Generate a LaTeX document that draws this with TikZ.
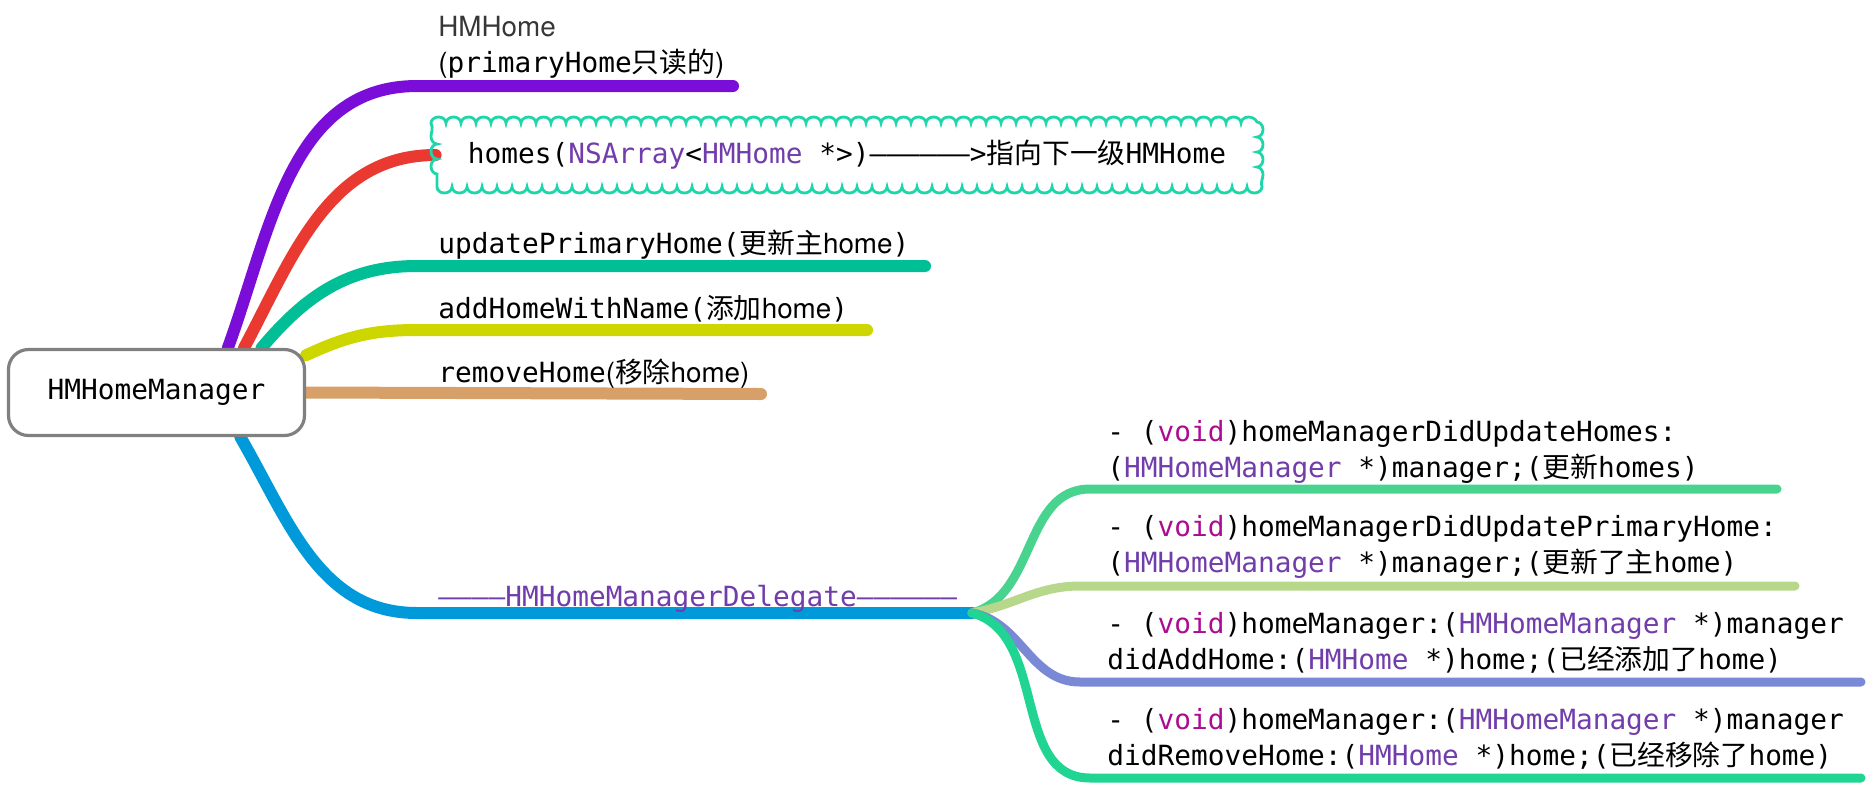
\documentclass[tikz,border=0pt]{standalone}
\usepackage{fontspec}
\setmonofont{DejaVu Sans Mono}
\newfontfamily\cjk{Noto Sans CJK SC}
\newfontfamily\helv{TeX Gyre Heros}
\usetikzlibrary{decorations.pathmorphing,backgrounds}

\definecolor{brPurple}{RGB}{122,14,216}
\definecolor{brRed}{RGB}{233,57,49}
\definecolor{brTeal}{RGB}{0,190,150}
\definecolor{brYellow}{RGB}{206,214,0}
\definecolor{brTan}{RGB}{214,160,104}
\definecolor{brBlue}{RGB}{0,153,218}
\definecolor{subGreen}{RGB}{72,212,142}
\definecolor{subLime}{RGB}{183,216,138}
\definecolor{subIndigo}{RGB}{121,137,214}
\definecolor{subMint}{RGB}{32,212,145}
\definecolor{cloudLine}{RGB}{30,214,170}
\definecolor{clsPurple}{RGB}{112,61,170}
\definecolor{kwPink}{RGB}{170,13,145}
\definecolor{headGray}{RGB}{55,55,55}
\definecolor{boxGray}{RGB}{128,128,128}

\newcommand\zh[1]{{\cjk #1}}
\newcommand\hv[1]{{\helv #1}}
\newcommand\cls[1]{\textcolor{clsPurple}{#1}}
\newcommand\kw[1]{\textcolor{kwPink}{#1}}

\tikzset{
  leaf/.style={anchor=base west, inner sep=0pt, align=left,
    font=\ttfamily\fontsize{13.9}{18}\selectfont},
  rootbox/.style={draw=boxGray, line width=1.6pt, rounded corners=10pt, fill=white,
    minimum width=148pt, minimum height=43pt, inner sep=0pt,
    font=\ttfamily\fontsize{13.9}{18}\selectfont},
  cloudbox/.style={draw=cloudLine, line width=1.4pt, minimum width=410pt, minimum height=32pt,
    inner sep=0pt, font=\ttfamily\fontsize{13.9}{18}\selectfont,
    decorate, decoration={bumps, mirror, segment length=15pt, amplitude=3pt}},
  branch/.style={line width=6pt, line cap=round},
  subbranch/.style={line width=4.5pt, line cap=round},
}

\begin{document}
\begin{tikzpicture}[x=.5pt, y=-.5pt]
\useasboundingbox (0,0) rectangle (1870,788);

% centre
\node[rootbox] (root) at (156.5,392.5) {HMHomeManager};

% properties and methods
\node[leaf] (primary) at (438,72) {\textcolor{headGray}{\hv{HMHome}}\\\hv{(}primaryHome\zh{只读的}\hv{)}};
\node[cloudbox] (homes) at (847,155) {homes(\cls{NSArray}<\cls{HMHome} *>)——————>\zh{指向下一级}HMHome};
\node[leaf] (update) at (438,253) {updatePrimaryHome(\zh{更新主}\hv{home})};
\node[leaf] (add) at (438,318) {addHomeWithName(\zh{添加}\hv{home})};
\node[leaf] (remove) at (438,382) {removeHome\hv{(}\zh{移除}\hv{home)}};
\node[leaf, text=clsPurple] (delegate) at (438,606) {————HMHomeManagerDelegate——————};

% delegate callbacks
\node[leaf] (didhomes) at (1107,477) {- (\kw{void})homeManagerDidUpdateHomes:\\(\cls{HMHomeManager} *)manager;(\zh{更新}homes)};
\node[leaf] (didprimary) at (1107,572) {- (\kw{void})homeManagerDidUpdatePrimaryHome:\\(\cls{HMHomeManager} *)manager;(\zh{更新了主}home)};
\node[leaf] (didadd) at (1107,669) {- (\kw{void})homeManager:(\cls{HMHomeManager} *)manager\\didAddHome:(\cls{HMHome} *)home;(\zh{已经添加了}home)};
\node[leaf] (didremove) at (1107,765) {- (\kw{void})homeManager:(\cls{HMHomeManager} *)manager\\didRemoveHome:(\cls{HMHome} *)home;(\zh{已经移除了}home)};

% branch ends
\coordinate (primary-in) at (417,86);   \coordinate (primary-out) at (733,86);
\coordinate (update-in) at (417,266);   \coordinate (update-out) at (925,266);
\coordinate (add-in) at (417,330);      \coordinate (add-out) at (867,330);
\coordinate (remove-out) at (761,394);
\coordinate (delegate-in) at (417,613); \coordinate (hub) at (972,613);
\coordinate (s1-in) at (1090,489);      \coordinate (s1-out) at (1777,489);
\coordinate (s2-in) at (1080,586);      \coordinate (s2-out) at (1795,586);
\coordinate (s3-in) at (1080,682);      \coordinate (s3-out) at (1861,682);
\coordinate (s4-in) at (1090,778);      \coordinate (s4-out) at (1861,778);

\begin{scope}[on background layer]
\draw[branch, brPurple] (root.32) to[out=70,in=180] (primary-in) -- (primary-out);
\draw[branch, brRed] (root.27) to[out=62,in=180] (homes.west);
\draw[branch, brTeal] (root.23) to[out=50,in=180] (update-in) -- (update-out);
\draw[branch, brYellow] (root.14) to[out=25,in=180] (add-in) -- (add-out);
\draw[branch, brTan] (root.east) -- (remove-out);
\draw[branch, brBlue] (root.-28) to[out=-60,in=180] (delegate-in) -- (hub);

\draw[subbranch, subGreen] (hub) to[out=15,in=180] (s1-in) -- (s1-out);
\draw[subbranch, subLime] (hub) to[out=10,in=180] (s2-in) -- (s2-out);
\draw[subbranch, subIndigo] (hub) to[out=-10,in=180] (s3-in) -- (s3-out);
\draw[subbranch, subMint] (hub) to[out=-15,in=180] (s4-in) -- (s4-out);
\end{scope}

\end{tikzpicture}
\end{document}
